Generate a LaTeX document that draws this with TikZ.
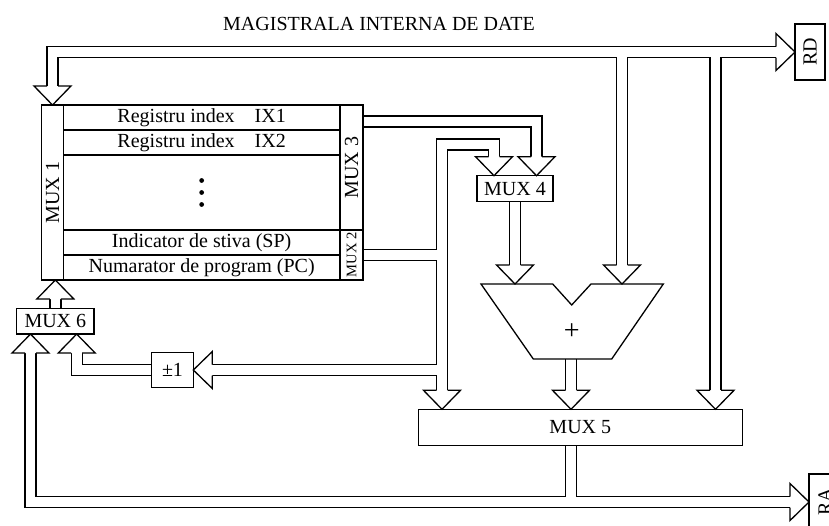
\documentclass[tikz,border=0pt]{standalone}
\usepackage{fontspec}
\setmainfont{Liberation Serif}
\usepackage{graphicx}
\usepackage{tikz}
\usetikzlibrary{positioning,backgrounds}
\tikzset{
  blk/.style={
    draw, line width=0.65pt, outer sep=0pt, inner sep=1pt,
    align=center, font=\fontsize{10}{12}\selectfont
  },
  reg/.style={blk, minimum width=138.35pt, minimum height=12.5pt},
  vmux/.style={blk, minimum width=11.5pt},
  bus/.style={draw, line width=0.65pt, double=white, double distance=4.85pt},
  headD/.pic={\filldraw[fill=white, line width=0.65pt]
    (-5.5,0) -- (-18.5,0) -- (0,19) -- (18.5,0) -- (5.5,0);},
  headU/.pic={\filldraw[fill=white, line width=0.65pt]
    (-5.5,0) -- (-18.5,0) -- (0,-19) -- (18.5,0) -- (5.5,0);},
  headL/.pic={\filldraw[fill=white, line width=0.65pt]
    (0,-5.5) -- (0,-18.5) -- (-19,0) -- (0,18.5) -- (0,5.5);},
  headR/.pic={\filldraw[fill=white, line width=0.65pt]
    (0,-5.5) -- (0,-18.5) -- (19,0) -- (0,18.5) -- (0,5.5);}
}

\begin{document}
\begin{tikzpicture}[x=0.5pt, y=-0.5pt, line join=miter]
  \useasboundingbox (0,0) rectangle (829,525);
  \clip (0,0) rectangle (829,525);

  % register block
  \node[blk, minimum width=10.8pt, minimum height=87.5pt] (mux1) at (52.5,192.5) {\rotatebox{90}{MUX 1}};
  \node[reg, anchor=north west] (ix1) at (mux1.north east) {Registru index\quad IX1};
  \node[reg, below=0pt of ix1] (ix2) {Registru index\quad IX2};
  \node[reg, below=0pt of ix2, minimum height=37.5pt] (dots) {};
  \node[reg, below=0pt of dots] (sp) {Indicator de stiva (SP)};
  \node[reg, below=0pt of sp] (pc) {Numarator de program (PC)};
  \node[vmux, anchor=north west, minimum height=62.5pt] (mux3) at (ix1.north east) {\rotatebox{90}{MUX 3}};
  \node[vmux, below=0pt of mux3, minimum height=25pt, font=\fontsize{7.3}{8}\selectfont] (mux2) {\rotatebox{90}{MUX 2}};
  \foreach \d in {-12,0,12}
    \fill (dots.center) ++(0,\d) circle (1.2pt);

  % other blocks
  \node[blk, minimum width=38pt, minimum height=13pt] (mux4) at (515,188.7) {MUX 4};
  \node[blk, minimum width=162pt, minimum height=18.2pt] (mux5) at (580.3,427.5) {MUX 5};
  \node[blk, minimum width=38.65pt, minimum height=12.85pt] (mux6) at (55.35,321.2) {MUX 6};
  \node[blk, minimum width=20.8pt, minimum height=17.8pt] (inc) at (172.5,370) {±1};
  \node[blk, minimum width=15pt, minimum height=28pt] (rd) at (810,52) {\rotatebox{90}{RD}};
  \node[blk, minimum width=16pt, minimum height=28pt] (ra) at (825,502) {\rotatebox{90}{RA}};
  \node (title) at (379,24) {MAGISTRALA INTERNA DE DATE};

  % adder
  \draw[line width=0.65pt] (481,284) -- (552.7,284) -- (571.7,305) -- (591,284)
    -- (663.3,284) -- (611.7,359) -- (533.3,359) -- cycle;
  \node[font=\fontsize{14}{14}\selectfont] (plus) at (571.7,332) {+};
  \coordinate (addL) at (515,284);
  \coordinate (addR) at (622,284);
  \coordinate (addO) at (571,359);

  % arrow bases
  \path (mux1.north) ++(0,-19) coordinate (m1b);
  \path (rd.west) ++(-19,0) coordinate (rdb);
  \path (mux4.north) ++(-21,-19) coordinate (m4Lb);
  \path (mux4.north) ++(21.5,-19) coordinate (m4Rb);
  \path (addL) ++(0,-19) coordinate (addLb);
  \path (addR) ++(0,-19) coordinate (addRb);
  \path (mux5.north west) ++(23.7,-19) coordinate (m5Lb);
  \path (mux5.north -| addO) ++(0,-19) coordinate (m5Cb);
  \path (mux5.north east) ++(-26.8,-19) coordinate (m5Rb);
  \path (inc.east) ++(19,0) coordinate (incb);
  \path (mux6.south) ++(-24.85,19) coordinate (m6Lb);
  \path (mux6.south) ++(21.35,19) coordinate (m6Rb);
  \path (mux6.north |- mux1.south) ++(0,19) coordinate (m1ub);
  \path (ra.west) ++(-19,0) coordinate (rab);
  \coordinate (spTop) at (m5Lb |- 0,144.5);
  \coordinate (m3o) at (mux3.east |- 0,121.5);

  % buses
  \begin{scope}[on background layer]
    \draw[bus]
      (rdb) -| (m1b)
      (rdb -| addRb) -- (addRb)
      (rdb -| m5Rb) -- (m5Rb)
      (m3o) -| (m4Rb)
      (m4Lb) |- (spTop) -- (m5Lb)
      (mux2.east) -- (mux2.east -| m5Lb)
      (incb -| m5Lb) -- (incb)
      (inc.west) -| (m6Rb)
      (mux4.south) -- (addLb)
      (addO) -- (m5Cb)
      (mux5.south -| addO) -- (addO |- rab)
      (m6Lb) |- (rab)
      (mux6.north) -- (m1ub);
    \pic at (m1b) {headD};
    \pic at (rdb) {headR};
    \pic at (m4Lb) {headD};
    \pic at (m4Rb) {headD};
    \pic at (addLb) {headD};
    \pic at (addRb) {headD};
    \pic at (m5Lb) {headD};
    \pic at (m5Cb) {headD};
    \pic at (m5Rb) {headD};
    \pic at (incb) {headL};
    \pic at (m6Lb) {headU};
    \pic at (m6Rb) {headU};
    \pic at (m1ub) {headU};
    \pic at (rab) {headR};
  \end{scope}
\end{tikzpicture}
\end{document}
